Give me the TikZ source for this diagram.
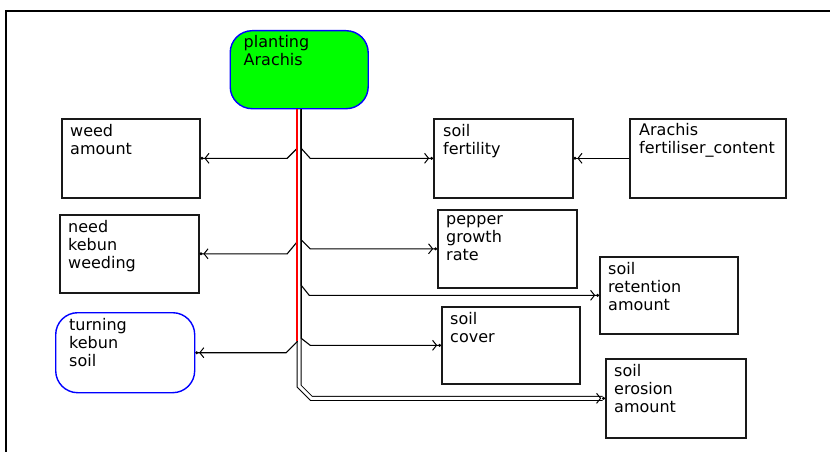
\documentclass[tikz,border=0pt]{standalone}
\usepackage{fontspec}
\setmainfont{DejaVu Sans}
\usetikzlibrary{arrows.meta}
\begin{document}
\begin{tikzpicture}[x=1pt,y=-1pt,
  box/.style={draw=black!90, line width=1.6pt, inner sep=0pt, anchor=north west},
  action/.style={box, draw=blue, line width=1.4pt, rounded corners=22pt},
  lbl/.style={font=\fontsize{16}{18}\selectfont, align=left, inner sep=0pt, anchor=north west,
    execute at begin node=\strut},
  tip/.style={-{Straight Barb[length=4pt,width=10pt,line width=1pt,sep=1pt] Circle[length=2.8pt]}},
  conn/.style={draw=black, line width=1.1pt, tip},
]
\useasboundingbox[fill=white] (0,0) rectangle (830,452);
% window frame
\draw[line width=2pt] (6,452) -- (6,11) -- (830,11);

% variables and actions
\node[action, fill={rgb,255:red,0;green,255;blue,0}, minimum width=138pt, minimum height=78pt] (plant) at (229.5,30) {};
\node[box, minimum width=138pt, minimum height=79pt] (weed) at (61,118) {};
\node[box, minimum width=139pt, minimum height=78pt] (need) at (59,214) {};
\node[action, minimum width=139pt, minimum height=80pt] (turn) at (55,312) {};
\node[box, minimum width=139pt, minimum height=79pt] (fert) at (433,118) {};
\node[box, minimum width=156pt, minimum height=79pt] (arach) at (629,118) {};
\node[box, minimum width=139pt, minimum height=78pt] (pepper) at (437,209) {};
\node[box, minimum width=138pt, minimum height=77pt] (retent) at (599,256) {};
\node[box, minimum width=138pt, minimum height=77pt] (cover) at (441,306) {};
\node[box, minimum width=140pt, minimum height=79pt] (erosion) at (605,358) {};

% labels: first baseline about 19pt below the top edge
\node[lbl] (plant-t) at ([shift={(14,5.4)}]plant.north west) {planting\\Arachis};
\node[lbl] (weed-t) at ([shift={(9,6.4)}]weed.north west) {weed\\amount};
\node[lbl] (need-t) at ([shift={(9,6.4)}]need.north west) {need\\kebun\\weeding};
\node[lbl] (turn-t) at ([shift={(14,6.4)}]turn.north west) {turning\\kebun\\soil};
\node[lbl] (fert-t) at ([shift={(10,6.4)}]fert.north west) {soil\\fertility};
\node[lbl] (arach-t) at ([shift={(10,5.4)}]arach.north west) {Arachis\\fertiliser\_content};
\node[lbl] (pepper-t) at ([shift={(9,6.4)}]pepper.north west) {pepper\\growth\\rate};
\node[lbl] (retent-t) at ([shift={(9,6.4)}]retent.north west) {soil\\retention\\amount};
\node[lbl] (cover-t) at ([shift={(9,6.4)}]cover.north west) {soil\\cover};
\node[lbl] (erosion-t) at ([shift={(9,6.4)}]erosion.north west) {soil\\erosion\\amount};

% trunk lanes under the action
\coordinate (tl) at ([xshift=-2pt]plant.south);
\coordinate (tr) at ([xshift=2pt]plant.south);

% flow into soil erosion (double line)
\draw[line width=1pt, double, double distance=3pt, tip]
  (plant.south) -- ([yshift=12pt]plant.south |- erosion.west)
  -- ([xshift=12pt]plant.south |- erosion.west) -- (erosion.west);

% influences from the action
\draw[conn] (tl) -- ([yshift=10pt]tl |- weed.east) -- ([xshift=-10pt]tl |- weed.east) -- (weed.east);
\draw[conn] (tr) -- ([yshift=10pt]tr |- fert.west) -- ([xshift=9pt]tr |- fert.west) -- (fert.west);
\draw[conn] (tl) -- ([yshift=12pt]tl |- need.east) -- ([xshift=-10pt]tl |- need.east) -- (need.east);
\draw[conn] (tr) -- ([yshift=9pt]tr |- pepper.west) -- ([xshift=9pt]tr |- pepper.west) -- (pepper.west);
\draw[conn] (tr) -- ([yshift=10pt]tr |- retent.west) -- ([xshift=8pt]tr |- retent.west) -- (retent.west);
\draw[conn] (tl) -- ([yshift=11pt]tl |- turn.east) -- ([xshift=-11pt]tl |- turn.east) -- (turn.east);
\draw[conn] (tr) -- ([yshift=7pt]tr |- cover.west) -- ([xshift=9pt]tr |- cover.west) -- (cover.west);
% selected influence highlighted
\draw[draw={rgb,255:red,255;green,0;blue,0}, line width=1.5pt] (tl) -- ([yshift=12pt]tl |- turn.east);

% fertiliser content into soil fertility
\draw[conn] (arach.west |- fert.east) -- (fert.east);
\end{tikzpicture}
\end{document}
